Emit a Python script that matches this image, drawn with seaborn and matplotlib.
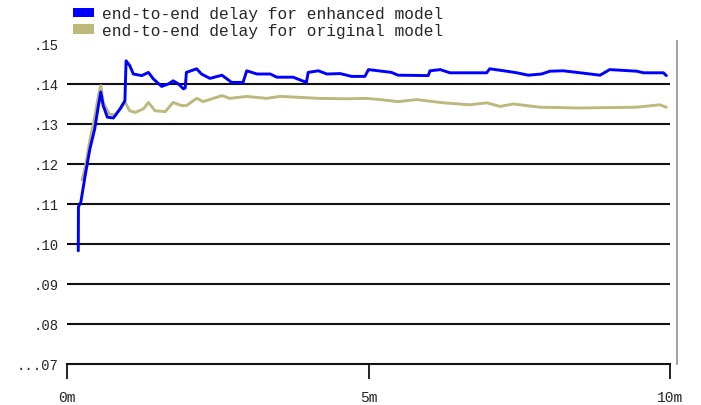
import matplotlib
matplotlib.use("Agg")
import matplotlib.pyplot as plt
from matplotlib.patches import Patch
import seaborn as sns
import pandas as pd

# ---- data (time in minutes, delay in seconds) ----
enh_t = [0.187, 0.19, 0.23, 0.30, 0.38, 0.46, 0.52, 0.56, 0.60, 0.67, 0.77, 0.88, 0.96,
         0.98, 1.04, 1.10, 1.24, 1.35, 1.43, 1.57, 1.68, 1.76, 1.85, 1.93, 1.96, 1.98,
         2.15, 2.23, 2.37, 2.57, 2.73, 2.92, 2.98, 3.15, 3.37, 3.48, 3.75, 3.97, 4.00,
         4.17, 4.31, 4.53, 4.72, 4.94, 5.00, 5.38, 5.49, 5.99, 6.02, 6.19, 6.35, 6.63,
         6.96, 7.01, 7.29, 7.46, 7.65, 7.87, 8.01, 8.23, 8.51, 8.84, 9.00, 9.45, 9.56,
         9.89, 9.94]
enh_v = [0.0983, 0.1093, 0.1105, 0.1170, 0.1238, 0.1288, 0.1345, 0.1380, 0.1346, 0.1317,
         0.1315, 0.1338, 0.1358, 0.1458, 0.1446, 0.1425, 0.1421, 0.1429, 0.1413, 0.1394,
         0.1400, 0.1408, 0.1400, 0.1388, 0.1390, 0.1429, 0.1438, 0.1425, 0.1414, 0.1422,
         0.1404, 0.1404, 0.1433, 0.1425, 0.1425, 0.1417, 0.1417, 0.1404, 0.1429, 0.1433,
         0.1425, 0.1426, 0.1419, 0.1419, 0.1436, 0.1429, 0.1422, 0.1421, 0.1433, 0.1436,
         0.1428, 0.1428, 0.1428, 0.1438, 0.1432, 0.1428, 0.1422, 0.1425, 0.1432, 0.1433,
         0.1428, 0.1422, 0.1436, 0.1432, 0.1428, 0.1428, 0.1421]

orig_t = [0.25, 0.30, 0.38, 0.45, 0.52, 0.56, 0.60, 0.70, 0.80, 0.90, 0.96, 1.04, 1.13,
          1.27, 1.35, 1.46, 1.63, 1.76, 1.90, 1.98, 2.15, 2.26, 2.57, 2.70, 2.98, 3.31,
          3.53, 3.81, 4.20, 4.64, 4.97, 5.19, 5.49, 5.80, 6.24, 6.68, 6.96, 7.18, 7.40,
          7.84, 8.50, 9.45, 9.83, 9.94]
orig_v = [0.1160, 0.1190, 0.1260, 0.1310, 0.1370, 0.1396, 0.1355, 0.1325, 0.1322, 0.1340,
          0.1355, 0.1333, 0.1329, 0.1338, 0.1354, 0.1333, 0.1331, 0.1354, 0.1346, 0.1346,
          0.1364, 0.1356, 0.1371, 0.1364, 0.1369, 0.1364, 0.1369, 0.1367, 0.1364, 0.1363,
          0.1364, 0.1361, 0.1356, 0.1361, 0.1353, 0.1348, 0.1353, 0.1344, 0.1350, 0.1342,
          0.1340, 0.1342, 0.1348, 0.1342]

series_labels = ["end-to-end delay for enhanced model", "end-to-end delay for original model"]
y_ticks = [0.07, 0.08, 0.09, 0.10, 0.11, 0.12, 0.13, 0.14, 0.15]
y_tick_labels = ["...07", ".08", ".09", ".10", ".11", ".12", ".13", ".14", ".15"]
x_ticks = [0, 5, 10]
x_tick_labels = ["0m", "5m", "10m"]

BLUE = "#0000ff"
OLIVE = "#bdb87c"
MONO = ["Liberation Mono", "DejaVu Sans Mono"]

sns.set_style("white")
plt.rcParams["font.family"] = MONO

W, H = 701, 406
fig = plt.figure(figsize=(W / 100, H / 100), dpi=100)
ax = fig.add_axes([67 / W, 41 / H, (670 - 67) / W, (365 - 42) / H])

df_e = pd.DataFrame({"t": enh_t, "v": enh_v})
df_o = pd.DataFrame({"t": orig_t, "v": orig_v})

# horizontal gridlines
for yv in y_ticks[1:-1]:
    ax.axhline(yv, color="#111111", lw=1.5, zorder=1)

sns.lineplot(data=df_o, x="t", y="v", ax=ax, color=OLIVE, lw=2.1, zorder=3,
             estimator=None, sort=False)
sns.lineplot(data=df_e, x="t", y="v", ax=ax, color=BLUE, lw=2.1, zorder=4,
             estimator=None, sort=False)

ax.set_xlim(0, 10)
ax.set_ylim(0.07, 0.15075)
ax.set_xlabel("")
ax.set_ylabel("")

ax.set_yticks(y_ticks)
ax.set_yticklabels(y_tick_labels, fontsize=10.5)
ax.set_xticks(x_ticks)
ax.set_xticklabels(x_tick_labels, fontsize=10.5)
ax.tick_params(axis="y", length=0, pad=6)
ax.tick_params(axis="x", direction="out", length=10.5, width=1.3, color="#111111",
               pad=8, bottom=True)

for s in ["top", "left"]:
    ax.spines[s].set_visible(False)
ax.spines["bottom"].set_color("#111111")
ax.spines["bottom"].set_linewidth(1.5)
ax.spines["right"].set_visible(True)
ax.spines["right"].set_color("#999999")
ax.spines["right"].set_linewidth(1.3)
ax.spines["right"].set_position(("outward", 5))

handles = [Patch(facecolor=BLUE, edgecolor="none"), Patch(facecolor=OLIVE, edgecolor="none")]
fig.legend(handles, series_labels, loc="upper left", bbox_to_anchor=(70 / W, 1 - 4 / H),
           frameon=False, fontsize=11.7, handlelength=1.3, handleheight=0.55,
           handletextpad=0.45, labelspacing=0.08, borderaxespad=0, borderpad=0.2)

fig.savefig("out.png", dpi=100, facecolor="white")
